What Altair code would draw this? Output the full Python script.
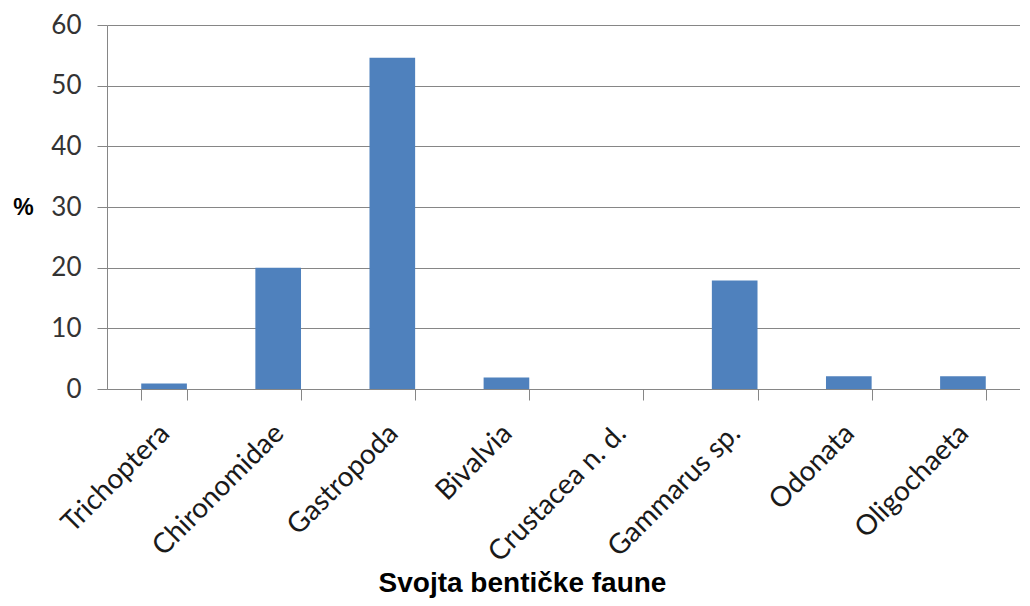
import altair as alt
import pandas as pd

categories = ["Trichoptera", "Chironomidae", "Gastropoda", "Bivalvia",
              "Crustacea n. d.", "Gammarus sp.", "Odonata", "Oligochaeta"]
values = [0.9, 20.0, 54.6, 1.9, 0.0, 17.9, 2.1, 2.1]

df = pd.DataFrame({"svojta": categories, "pct": values})

GRAY = "#868686"

chart = alt.Chart(df).mark_bar(color="#4F81BD").encode(
    x=alt.X(
        "svojta:N",
        sort=categories,
        scale=alt.Scale(paddingInner=0.6, paddingOuter=0.3),
        axis=alt.Axis(
            title="Svojta bentičke faune",
            titleFont="Liberation Sans",
            titleFontSize=28,
            titleFontWeight="bold",
            titleColor="#000000",
            titleAlign="center",
            titleBaseline="middle",
            titleX=415,
            titleY=194,
            tickBand="extent",
            domainColor=GRAY,
            tickColor=GRAY,
            tickSize=11,
            labelAngle=-45,
            labelAlign="right",
            labelBaseline="middle",
            labelPadding=29,
            labelOffset=1,
            labelFont="Lato",
            labelFontSize=28,
            labelColor="#1a1a1a",
            labelOverlap=False,
            labelLimit=0,
        ),
    ),
    y=alt.Y(
        "pct:Q",
        scale=alt.Scale(domain=[0, 60], nice=False),
        axis=alt.Axis(
            title="%",
            titleAngle=0,
            titleFont="Liberation Sans",
            titleFontSize=23,
            titleFontWeight="bold",
            titleColor="#000000",
            titleAlign="center",
            titleBaseline="middle",
            titleX=-84,
            titleY=182,
            values=[0, 10, 20, 30, 40, 50, 60],
            domainColor=GRAY,
            tickColor=GRAY,
            tickSize=10,
            gridColor=GRAY,
            labelFont="Lato",
            labelFontSize=26,
            labelColor="#333333",
            labelPadding=16,
        ),
    ),
).properties(
    width=913,
    height=364,
    autosize=alt.AutoSizeParams(type="none"),
    padding={"left": 99, "top": 17, "right": 0, "bottom": 210},
).configure_view(stroke=None).configure_axis(grid=True).configure_axisX(grid=False)

chart.save("out.html", embed_options={"renderer": "svg", "actions": False})
